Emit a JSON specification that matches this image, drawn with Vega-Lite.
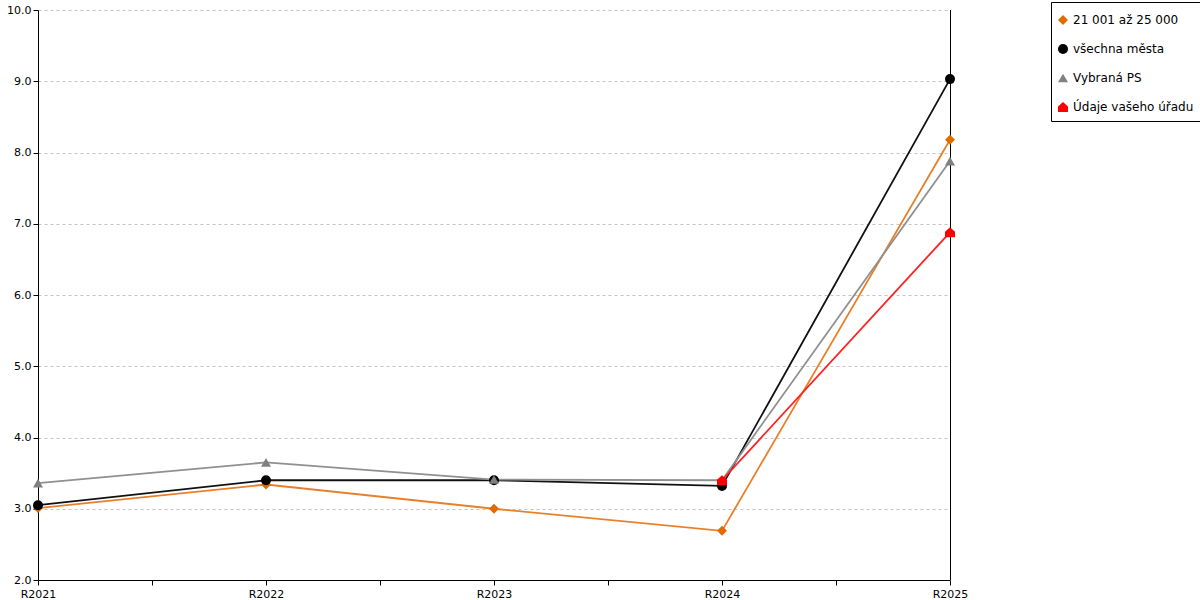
{
  "$schema": "https://vega.github.io/schema/vega-lite/v6.json",
  "width": 912,
  "height": 570,
  "autosize": {"type": "none"},
  "padding": {"left": 38, "top": 10, "right": 250, "bottom": 20},
  "background": "white",
  "data": {
    "values": [
      {"serie": "21 001 až 25 000", "rok": 2021, "hodnota": 3.01},
      {"serie": "21 001 až 25 000", "rok": 2022, "hodnota": 3.34},
      {"serie": "21 001 až 25 000", "rok": 2023, "hodnota": 3.0},
      {"serie": "21 001 až 25 000", "rok": 2024, "hodnota": 2.69},
      {"serie": "21 001 až 25 000", "rok": 2025, "hodnota": 8.18},
      {"serie": "všechna města", "rok": 2021, "hodnota": 3.05},
      {"serie": "všechna města", "rok": 2022, "hodnota": 3.4},
      {"serie": "všechna města", "rok": 2023, "hodnota": 3.4},
      {"serie": "všechna města", "rok": 2024, "hodnota": 3.32},
      {"serie": "všechna města", "rok": 2025, "hodnota": 9.03},
      {"serie": "Vybraná PS", "rok": 2021, "hodnota": 3.36},
      {"serie": "Vybraná PS", "rok": 2022, "hodnota": 3.65},
      {"serie": "Vybraná PS", "rok": 2023, "hodnota": 3.41},
      {"serie": "Vybraná PS", "rok": 2024, "hodnota": 3.4},
      {"serie": "Vybraná PS", "rok": 2025, "hodnota": 7.88},
      {"serie": "Údaje vašeho úřadu", "rok": 2024, "hodnota": 3.4},
      {"serie": "Údaje vašeho úřadu", "rok": 2025, "hodnota": 6.88}
    ]
  },
  "encoding": {
    "x": {
      "field": "rok",
      "type": "quantitative",
      "scale": {"domain": [2021, 2025], "nice": false, "zero": false},
      "axis": {
        "title": null,
        "values": [2021, 2021.5, 2022, 2022.5, 2023, 2023.5, 2024, 2024.5, 2025],
        "labelExpr": "datum.value % 1 == 0 ? 'R' + datum.value : ''",
        "labelFlush": false,
        "labelOverlap": false,
        "labelBound": false,
        "grid": false,
        "tickSize": 5,
        "labelPadding": 3
      }
    },
    "y": {
      "field": "hodnota",
      "type": "quantitative",
      "scale": {"domain": [2, 10], "nice": false, "zero": false},
      "axis": {
        "title": null,
        "values": [2, 3, 4, 5, 6, 7, 8, 9, 10],
        "format": ".1f",
        "grid": true,
        "gridDash": [3, 3],
        "gridColor": "#c4c4c4",
        "tickSize": 5,
        "labelPadding": 2
      }
    }
  },
  "layer": [
    {
      "transform": [{"aggregate": [{"op": "max", "field": "rok", "as": "rok"}]}],
      "mark": {"type": "rule", "color": "black", "strokeWidth": 1, "xOffset": 0.5},
      "encoding": {"x": {"field": "rok", "type": "quantitative"}, "y": null}
    },
    {
      "mark": {"type": "line", "strokeWidth": 1.8},
      "encoding": {
        "stroke": {
          "field": "serie",
          "type": "nominal",
          "legend": null,
          "scale": {
            "domain": ["21 001 až 25 000", "všechna města", "Vybraná PS", "Údaje vašeho úřadu"],
            "range": ["#e8802a", "#111111", "#909090", "#ff2020"]
          }
        },
        "strokeWidth": {
          "field": "serie",
          "type": "nominal",
          "legend": null,
          "scale": {
            "domain": ["21 001 až 25 000", "všechna města", "Vybraná PS", "Údaje vašeho úřadu"],
            "range": [1.6, 2, 2, 1.2]
          }
        }
      }
    },
    {
      "mark": {"type": "point", "filled": true, "opacity": 1},
      "encoding": {
        "color": {
          "field": "serie",
          "type": "nominal",
          "title": " ",
          "scale": {
            "domain": ["21 001 až 25 000", "všechna města", "Vybraná PS", "Údaje vašeho úřadu"],
            "range": ["#e06c00", "#000000", "#808080", "#ff0000"]
          }
        },
        "shape": {
          "field": "serie",
          "type": "nominal",
          "title": " ",
          "scale": {
            "domain": ["21 001 až 25 000", "všechna města", "Vybraná PS", "Údaje vašeho úřadu"],
            "range": ["diamond", "circle", "triangle-up", "M-1,1L-1,-0.1L0,-1L1,-0.1L1,1Z"]
          }
        },
        "size": {"value": 100}
      }
    }
  ],
  "resolve": {"scale": {"stroke": "independent", "strokeWidth": "independent"}},
  "config": {
    "view": {"stroke": null},
    "font": "DejaVu Sans",
    "axis": {
      "labelFont": "DejaVu Sans",
      "labelFontSize": 11,
      "labelColor": "black",
      "domainColor": "black",
      "tickColor": "black"
    },
    "legend": {
      "orient": "none",
      "legendX": 1013,
      "legendY": -8,
      "strokeColor": "black",
      "fillColor": "white",
      "padding": 6,
      "rowPadding": 13,
      "symbolSize": 100,
      "symbolOpacity": 1,
      "titleFontSize": 4,
      "titlePadding": 2,
      "labelFont": "DejaVu Sans",
      "labelFontSize": 12,
      "labelColor": "black",
      "labelOffset": 4,
      "labelLimit": 200
    }
  }
}
